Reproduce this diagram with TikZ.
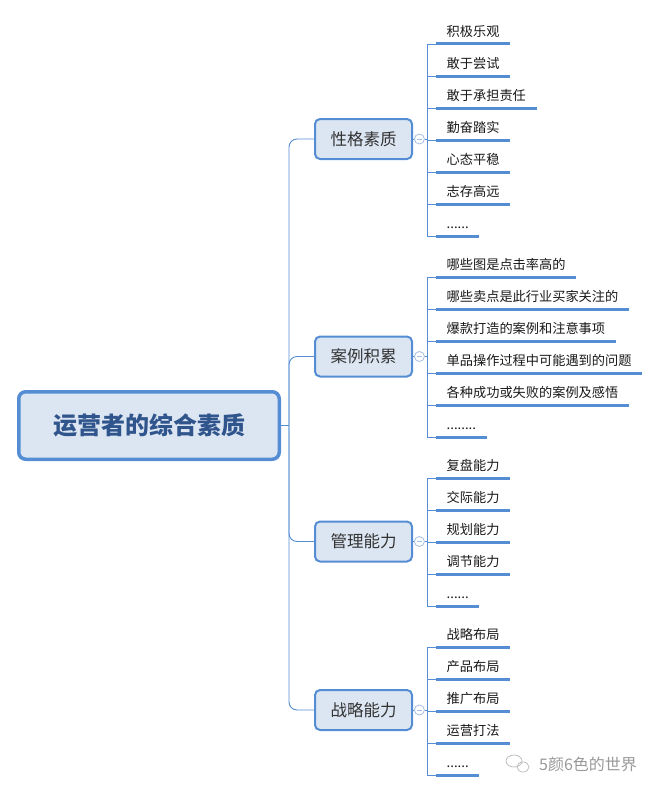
\documentclass[tikz,border=0pt]{standalone}
\usepackage{fontspec}
\setmainfont{Noto Sans CJK SC}
\usepackage{tikz}
\usetikzlibrary{positioning}

\definecolor{mapblue}{RGB}{84,141,212}
\definecolor{mapfill}{RGB}{220,230,243}
\definecolor{roottext}{RGB}{48,84,140}
\definecolor{ringblue}{RGB}{165,190,228}

\begin{document}
\begin{tikzpicture}[x=1pt, y=-1pt]

\tikzstyle{root} = [rectangle, rounded corners=7pt, minimum width=260.5pt, minimum height=67.5pt, line width=3.5pt, draw=mapblue, fill=mapfill, text=roottext, font=\fontsize{24}{28}\selectfont\bfseries]
\tikzstyle{branch} = [rectangle, rounded corners=5pt, minimum width=97pt, minimum height=40pt, line width=2pt, draw=mapblue, fill=mapfill, text=black!80, font=\fontsize{16.5}{20}\selectfont]
\tikzstyle{ring} = [circle, inner sep=0pt, minimum size=10pt, line width=0.8pt, draw=ringblue, fill=white, text=ringblue]
\tikzstyle{uline} = [draw=mapblue, line width=3pt]
\tikzstyle{leaf} = [anchor=south west, inner xsep=10.5pt, inner ysep=0pt, text height=13pt, text depth=7.5pt, text=black!90, font=\fontsize{13.2}{16}\selectfont, append after command={(\tikzlastnode.south west) edge[uline] (\tikzlastnode.south east)}]
\tikzstyle{link} = [draw=mapblue, line width=0.9pt]

\useasboundingbox (0,0) rectangle (658,792);

\node (core) [root] at (149,425.5) {运营者的综合素质};
\coordinate (hub) at (289,425.5);

\node (b1) [branch] at (363.5,139) {性格素质};
\node (b2) [branch] at (363.5,356.5) {案例积累};
\node (b3) [branch] at (363.5,541.5) {管理能力};
\node (b4) [branch] at (363.5,710) {战略能力};

\node (k1) [ring, right=1pt of b1] {\rule{5pt}{0.7pt}};
\node (k2) [ring, right=1pt of b2] {\rule{5pt}{0.7pt}};
\node (k3) [ring, right=1pt of b3] {\rule{5pt}{0.7pt}};
\node (k4) [ring, right=1pt of b4] {\rule{5pt}{0.7pt}};

% 性格素质
\node (a1) [leaf] at (436,44) {积极乐观};
\node (a2) [below=32pt of a1.south west, leaf] {敢于尝试};
\node (a3) [below=32pt of a2.south west, leaf] {敢于承担责任};
\node (a4) [below=32pt of a3.south west, leaf] {勤奋踏实};
\node (a5) [below=32pt of a4.south west, leaf] {心态平稳};
\node (a6) [below=32pt of a5.south west, leaf] {志存高远};
\node (a7) [below=32pt of a6.south west, leaf] {......};

% 案例积累
\node (c1) [leaf] at (436,277) {哪些图是点击率高的};
\node (c2) [below=32pt of c1.south west, leaf] {哪些卖点是此行业买家关注的};
\node (c3) [below=32pt of c2.south west, leaf] {爆款打造的案例和注意事项};
\node (c4) [below=32pt of c3.south west, leaf] {单品操作过程中可能遇到的问题};
\node (c5) [below=32pt of c4.south west, leaf] {各种成功或失败的案例及感悟};
\node (c6) [below=32pt of c5.south west, leaf] {........};

% 管理能力
\node (m1) [leaf] at (436,478) {复盘能力};
\node (m2) [below=32pt of m1.south west, leaf] {交际能力};
\node (m3) [below=32pt of m2.south west, leaf] {规划能力};
\node (m4) [below=32pt of m3.south west, leaf] {调节能力};
\node (m5) [below=32pt of m4.south west, leaf] {......};

% 战略能力
\node (z1) [leaf] at (436,647) {战略布局};
\node (z2) [below=32pt of z1.south west, leaf] {产品布局};
\node (z3) [below=32pt of z2.south west, leaf] {推广布局};
\node (z4) [below=32pt of z3.south west, leaf] {运营打法};
\node (z5) [below=32pt of z4.south west, leaf] {......};

\draw [link] (core) -- (hub);
\draw [link, rounded corners=8pt] (hub) |- (b1.west);
\draw [link, rounded corners=8pt] (hub) |- (b2.west);
\draw [link, rounded corners=8pt] (hub) |- (b3.west);
\draw [link, rounded corners=8pt] (hub) |- (b4.west);

\draw [link] (b1) -- (k1);
\draw [link] (b2) -- (k2);
\draw [link] (b3) -- (k3);
\draw [link] (b4) -- (k4);

\draw [link] (k1.east) -- ++(3,0) coordinate (s1) (s1) |- (a1.south west) (s1) |- (a2.south west) (s1) |- (a3.south west) (s1) |- (a4.south west) (s1) |- (a5.south west) (s1) |- (a6.south west) (s1) |- (a7.south west);
\draw [link] (k2.east) -- ++(3,0) coordinate (s2) (s2) |- (c1.south west) (s2) |- (c2.south west) (s2) |- (c3.south west) (s2) |- (c4.south west) (s2) |- (c5.south west) (s2) |- (c6.south west);
\draw [link] (k3.east) -- ++(3,0) coordinate (s3) (s3) |- (m1.south west) (s3) |- (m2.south west) (s3) |- (m3.south west) (s3) |- (m4.south west) (s3) |- (m5.south west);
\draw [link] (k4.east) -- ++(3,0) coordinate (s4) (s4) |- (z1.south west) (s4) |- (z2.south west) (s4) |- (z3.south west) (s4) |- (z4.south west) (s4) |- (z5.south west);

% watermark
\draw [black!25, line width=0.8pt] (514,761) ellipse (8 and 6);
\draw [black!25, line width=0.8pt] (523,767) ellipse (6 and 5);
\node (mark) at (588,764) [text=black!40, font=\fontsize{16}{18}\selectfont] {5颜6色的世界};
\end{tikzpicture}
\end{document}
